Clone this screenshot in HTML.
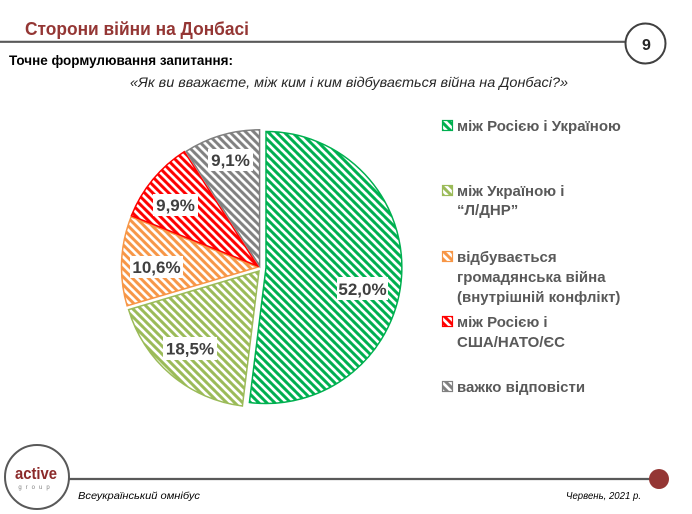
<!DOCTYPE html>
<html><head><meta charset="utf-8"><style>
html,body{margin:0;padding:0;background:#fff;}
svg{display:block;}
text{font-family:"Liberation Sans","Noto Sans CJK SC",sans-serif;}
</style></head><body>
<svg width="692" height="514" viewBox="0 0 692 514" xmlns="http://www.w3.org/2000/svg">
<defs>
<pattern id="pG" patternUnits="userSpaceOnUse" width="8" height="8"><path d="M-1,-1 L9,9 M-1,7 L1,9 M7,-1 L9,1" stroke="#00B050" stroke-width="3"/></pattern>
<pattern id="pL" patternUnits="userSpaceOnUse" width="8" height="8"><path d="M-1,-1 L9,9 M-1,7 L1,9 M7,-1 L9,1" stroke="#9BBB59" stroke-width="3"/></pattern>
<pattern id="pO" patternUnits="userSpaceOnUse" width="8" height="8"><path d="M-1,-1 L9,9 M-1,7 L1,9 M7,-1 L9,1" stroke="#F79646" stroke-width="3"/></pattern>
<pattern id="pR" patternUnits="userSpaceOnUse" width="8" height="8"><path d="M-1,-1 L9,9 M-1,7 L1,9 M7,-1 L9,1" stroke="#FF0000" stroke-width="3"/></pattern>
<pattern id="pY" patternUnits="userSpaceOnUse" width="8" height="8"><path d="M-1,-1 L9,9 M-1,7 L1,9 M7,-1 L9,1" stroke="#808080" stroke-width="3"/></pattern>
</defs>

<!-- header -->
<text x="25" y="35" font-size="18.5" font-weight="bold" fill="#943634" textLength="224" lengthAdjust="spacingAndGlyphs">Сторони війни на Донбасі</text>
<line x1="0" y1="41.8" x2="626" y2="41.8" stroke="#595959" stroke-width="2.2"/>
<circle cx="645.5" cy="43.5" r="20" fill="#fff" stroke="#404040" stroke-width="2"/>
<text x="646.5" y="50" font-size="16" font-weight="bold" fill="#262626" text-anchor="middle">9</text>
<text x="9" y="65" font-size="13.5" font-weight="bold" fill="#000" textLength="224" lengthAdjust="spacingAndGlyphs">Точне формулювання запитання:</text>
<text x="130" y="87" font-size="14" font-style="italic" fill="#262626" textLength="438" lengthAdjust="spacingAndGlyphs">«Як ви вважаєте, між ким і ким відбувається війна на Донбасі?»</text>

<!-- pie -->
<path d="M266,267.5 L266,131.5 A136,136 0 1 1 249.4,402.5 Z" fill="url(#pG)" stroke="#00B050" stroke-width="1.5"/>
<path d="M259,271 L242.4,406 A136,136 0 0 1 128.6,309.6 Z" fill="url(#pL)" stroke="#9BBB59" stroke-width="1.5"/>
<g transform="translate(-1.5,0.2)"><path d="M259,267 L128.6,305.6 A136,136 0 0 1 132.6,216.7 Z" fill="url(#pO)" stroke="#F79646" stroke-width="1.5"/></g>
<g transform="translate(-1.2,-1)"><path d="M259,267 L132.6,216.7 A136,136 0 0 1 185.5,152.6 Z" fill="url(#pR)" stroke="#FF0000" stroke-width="1.5"/></g>
<g transform="translate(0.6,-1.2)"><path d="M259,267 L185.5,152.6 A136,136 0 0 1 259,131 Z" fill="url(#pY)" stroke="#808080" stroke-width="1.5"/></g>

<!-- data labels -->
<g font-size="17" font-weight="bold" fill="#404040" text-anchor="middle">
<rect x="337" y="277" width="51" height="23" fill="#fff"/>
<text x="362.5" y="295">52,0%</text>
<rect x="163" y="337" width="54" height="23" fill="#fff"/>
<text x="190" y="354.5">18,5%</text>
<rect x="130" y="256" width="53" height="22" fill="#fff"/>
<text x="156.5" y="273">10,6%</text>
<rect x="153" y="194" width="45" height="22" fill="#fff"/>
<text x="175.5" y="211">9,9%</text>
<rect x="208" y="149" width="45" height="22" fill="#fff"/>
<text x="230.5" y="166">9,1%</text>
</g>

<!-- legend -->
<g stroke-width="1.2">
<rect x="442.5" y="120.5" width="10" height="10" fill="url(#pG)" stroke="#00B050"/>
<rect x="442.5" y="185.5" width="10" height="10" fill="url(#pL)" stroke="#9BBB59"/>
<rect x="442.5" y="251.5" width="10" height="10" fill="url(#pO)" stroke="#F79646"/>
<rect x="442.5" y="316.5" width="10" height="10" fill="url(#pR)" stroke="#FF0000"/>
<rect x="442.5" y="381.5" width="10" height="10" fill="url(#pY)" stroke="#808080"/>
</g>
<g font-size="15" font-weight="bold" fill="#595959">
<text x="457" y="131">між Росією і Україною</text>
<text x="457" y="196">між Україною і</text>
<text x="457" y="215">“Л/ДНР”</text>
<text x="457" y="262">відбувається</text>
<text x="457" y="282">громадянська війна</text>
<text x="457" y="302">(внутрішній конфлікт)</text>
<text x="457" y="327">між Росією і</text>
<text x="457" y="347">США/НАТО/ЄС</text>
<text x="457" y="392">важко відповісти</text>
</g>

<!-- footer -->
<line x1="68" y1="479" x2="660" y2="479" stroke="#595959" stroke-width="2.2"/>
<circle cx="659" cy="479" r="10" fill="#943634"/>
<circle cx="37" cy="477" r="32" fill="#fff" stroke="#595959" stroke-width="2"/>
<text x="36" y="479" font-size="17" font-weight="bold" fill="#8B2A2A" text-anchor="middle" textLength="42" lengthAdjust="spacingAndGlyphs">active</text>
<text x="36" y="489" font-size="6" fill="#808080" text-anchor="middle" letter-spacing="4">group</text>
<text x="78" y="499" font-size="10.5" font-style="italic" fill="#000" textLength="122" lengthAdjust="spacingAndGlyphs">Всеукраїнський омнібус</text>
<text x="566" y="499" font-size="10.5" font-style="italic" fill="#000" textLength="75" lengthAdjust="spacingAndGlyphs">Червень, 2021 р.</text>
</svg>
</body></html>
